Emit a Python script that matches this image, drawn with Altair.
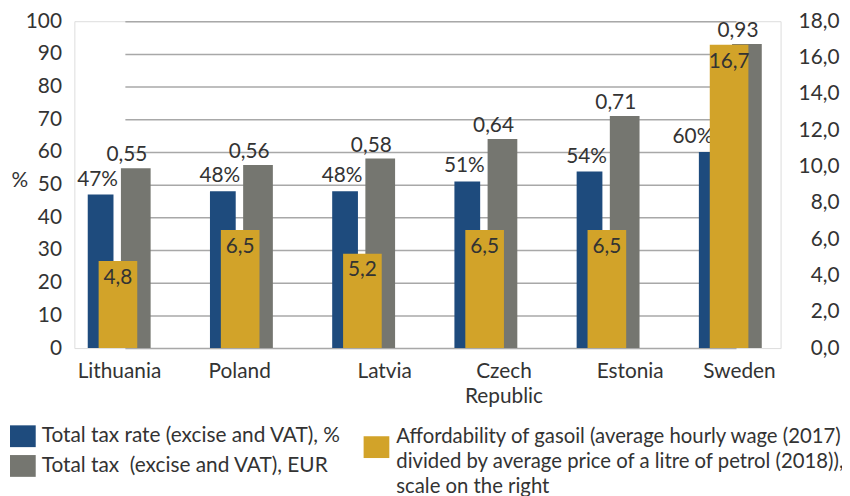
import altair as alt
import pandas as pd

countries = ["Lithuania", "Poland", "Latvia", "Czech Republic", "Estonia", "Sweden"]
tax_rate = [47, 48, 48, 51, 54, 60]
total_tax_eur = [0.55, 0.56, 0.58, 0.64, 0.71, 0.93]
affordability = [4.8, 6.5, 5.2, 6.5, 6.5, 16.7]

s_rate = "Total tax rate (excise and VAT), %"
s_eur = "Total tax\u00a0 (excise and VAT), EUR"
s_aff = ("Affordability of gasoil (average hourly wage (2017)|"
         "divided by average price of a litre of petrol (2018)),|"
         "scale on the right")

BLUE = "#1e4b7d"
GREY = "#757670"
GOLD = "#d2a329"
TXT = "#333333"
GRID = "#a8a8a8"
FONT = "Lato"
FS = 21

df_rate = pd.DataFrame({"country": countries, "value": tax_rate, "series": s_rate})
df_eur = pd.DataFrame({"country": countries, "value": total_tax_eur, "series": s_eur})
df_aff = pd.DataFrame({"country": countries, "value": affordability, "series": s_aff})

SYM = "M-1.18,-1H1.18V1H-1.18Z"
SYM_LOW = "M-1.18,-0.09H1.18V1.91H-1.18Z"

label_offset = {
    "condition": [
        {"test": "datum.value == 'Lithuania'", "value": -6},
        {"test": "datum.value == 'Poland'", "value": -8},
        {"test": "datum.value == 'Latvia'", "value": 15},
        {"test": "datum.value == 'Czech Republic'", "value": 12},
        {"test": "datum.value == 'Estonia'", "value": 16},
    ],
    "value": 3,
}

x = alt.X(
    "country:N",
    sort=countries,
    scale=alt.Scale(type="point", range=[51, 668], padding=0),
    axis=alt.Axis(
        title=None, domain=False, ticks=False, grid=False, labelAngle=0,
        labelFont=FONT, labelFontSize=FS, labelColor=TXT, labelPadding=13,
        labelLineHeight=25, labelOverlap=False, labelLimit=0,
        labelExpr="datum.label == 'Czech Republic' ? ['Czech', 'Republic'] : datum.label",
        labelOffset=label_offset,
    ),
)

color = alt.Color(
    "series:N",
    scale=alt.Scale(domain=[s_rate, s_eur], range=[BLUE, GREY]),
    legend=alt.Legend(
        title=None, orient="none", legendX=-63, legendY=408, direction="vertical",
        symbolType=SYM, symbolSize=484, symbolStrokeWidth=0, symbolOpacity=1,
        labelFont=FONT, labelFontSize=FS, labelColor=TXT, labelOffset=8,
        rowPadding=8, labelLimit=0, padding=0,
    ),
)

fill = alt.Fill(
    "series:N",
    scale=alt.Scale(domain=[s_aff], range=[GOLD]),
    legend=alt.Legend(
        title=None, orient="none", legendX=294, legendY=409, direction="vertical",
        symbolType=SYM_LOW, symbolSize=484, symbolStrokeWidth=0, symbolOpacity=1,
        labelFont=FONT, labelFontSize=20.5, labelColor=TXT, labelOffset=9,
        labelLimit=0, padding=0,
        labelExpr="split(datum.label, '|')",
    ),
)

# blue: tax rate, left axis
y_rate = alt.Y(
    "value:Q",
    scale=alt.Scale(domain=[0, 100], nice=False),
    axis=alt.Axis(
        orient="left", values=list(range(0, 101, 10)), grid=True, gridColor=GRID,
        gridWidth=1.5, domain=False, ticks=False, labelFont=FONT, labelFontSize=FS,
        labelColor=TXT, labelPadding=13, title="%", titleAngle=0, titleX=-64,
        titleY=161, titleAlign="left", titleBaseline="middle", titleFont=FONT,
        titleFontSize=FS, titleFontWeight="normal", titleColor=TXT,
    ),
)
base_rate = alt.Chart(df_rate).encode(x=x, y=y_rate)
rate_layer = alt.layer(
    base_rate.mark_bar(width=26, xOffset=-24.5).encode(color=color),
    base_rate.mark_text(
        font=FONT, fontSize=FS, color=TXT, baseline="alphabetic", dy=-9,
        xOffset=-24.5, dx=alt.ExprRef("datum.country == 'Sweden' ? -19 : -3"),
    ).transform_calculate(label="format(datum.value, 'd') + '%'").encode(text="label:N"),
)

# grey: total tax EUR (own hidden scale 0-1)
y_eur = alt.Y("value:Q", scale=alt.Scale(domain=[0, 1], nice=False), axis=None)
base_eur = alt.Chart(df_eur).encode(x=x, y=y_eur)
eur_layer = alt.layer(
    base_eur.mark_bar(width=30, xOffset=11).encode(color=color),
    base_eur.mark_text(
        font=FONT, fontSize=FS, color=TXT, baseline="alphabetic", dy=-7, xOffset=2,
    ).transform_calculate(label="replace(format(datum.value, '.2f'), '.', ',')").encode(text="label:N"),
)

# gold: affordability, right axis
y_aff = alt.Y(
    "value:Q",
    scale=alt.Scale(domain=[0, 18], nice=False),
    axis=alt.Axis(
        orient="right", values=list(range(0, 19, 2)), grid=False, domain=False,
        ticks=False, labelFont=FONT, labelFontSize=FS, labelColor=TXT,
        labelPadding=59, labelAlign="right", title=None,
        labelExpr="replace(format(datum.value, '.1f'), '.', ',')",
    ),
)
base_aff = alt.Chart(df_aff).encode(x=x, y=y_aff)
aff_layer = alt.layer(
    base_aff.mark_bar(width=39, xOffset=-7).encode(fill=fill),
    base_aff.mark_text(
        font=FONT, fontSize=FS, color=TXT, baseline="alphabetic", dy=23, xOffset=-7,
    ).transform_calculate(label="replace(format(datum.value, '.1f'), '.', ',')").encode(text="label:N"),
)

chart = (
    alt.layer(rate_layer, eur_layer, aff_layer)
    .resolve_scale(y="independent")
    .properties(
        width=713, height=330,
        autosize=alt.AutoSizeParams(type="none"),
        padding={"left": 67, "top": 11, "right": 62, "bottom": 147},
    )
    .configure_view(stroke=None)
    .configure(font=FONT, style={"guide-label": {"lineHeight": 25}})
)

chart.save("out.html", embed_options={"renderer": "svg", "actions": False})
